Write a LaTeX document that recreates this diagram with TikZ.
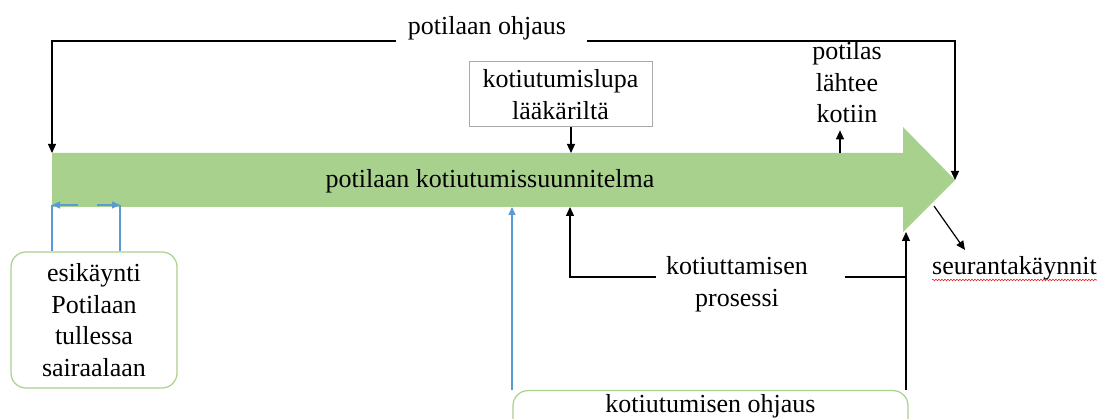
\documentclass[tikz,border=0pt]{standalone}
\usepackage{fontspec}
\setmainfont{Liberation Serif}
\newfontfamily\diagfont{Liberation Serif}
\usetikzlibrary{arrows.meta,decorations.pathmorphing}
\definecolor{planfill}{RGB}{169,209,142}
\definecolor{boxgreen}{RGB}{169,209,142}
\definecolor{boxgray}{RGB}{170,170,170}
\definecolor{linkblue}{RGB}{91,155,213}
\definecolor{spellred}{RGB}{225,40,40}
\begin{document}
\begin{tikzpicture}[x=1pt,y=-1pt,
  txt/.style={font=\diagfont\fontsize{26}{31.5}\selectfont, align=center, inner sep=0pt},
  ln/.style={line width=1.2pt, black},
  tip/.style={-{Triangle[length=9pt,width=8pt]}},
  bl/.style={line width=1.1pt, linkblue},
  bltip/.style={-{Triangle[length=8pt,width=7pt]}},
  gbox/.style={draw=boxgreen, line width=1.2pt, rounded corners=15pt, fill=white}
]
\useasboundingbox (0,0) rectangle (1101,419);
\clip (0,0) rectangle (1101,419);

% the plan arrow
\coordinate (tailT) at (52,153);
\coordinate (tailB) at (52,207);
\coordinate (neckT) at (903,153);
\coordinate (neckB) at (903,207);
\coordinate (headT) at (903,127);
\coordinate (headB) at (903,232);
\coordinate (apex)  at (955,180);
\fill[planfill] (tailT) -- (neckT) -- (headT) -- (apex) -- (headB) -- (neckB) -- (tailB) -- cycle;
\node[txt, anchor=base] (plan) at (490,188) {potilaan kotiutumissuunnitelma};

% guidance loop over the top
\node[txt, anchor=base] (ohj) at (487,35) {potilaan ohjaus};
\coordinate (loopL) at (52,41);
\coordinate (loopR) at (955,41);
\draw[ln,tip] ([xshift=-12pt]ohj.west |- loopL) -- (loopL) -- (tailT);
\draw[ln,tip] ([xshift=21pt]ohj.east |- loopR) -- (loopR) -- (apex);

% permission from the doctor
\node[txt, draw=boxgray, line width=1pt, minimum width=183pt, minimum height=65pt] (lupa) at (560.5,94.5) {kotiutumislupa\\lääkäriltä};
\coordinate (lupaX) at (571,0);
\draw[ln,tip] (lupa.south -| lupaX) -- (lupaX |- tailT);

% patient leaves home
\node[txt] (koti) at (847,82.5) {potilas\\lähtee\\kotiin};
\coordinate (kotiX) at (840,0);
\draw[ln,tip] (kotiX |- tailT) -- ([yshift=-7pt]koti.south -| kotiX);

% follow-up visits
\node[txt, anchor=base] (seur) at (1014.5,275) {seurantakäynnit};
\coordinate (seurFrom) at (934,206);
\coordinate (seurTo) at (965,250);
\draw[ln,tip] (seurFrom) -- (seurTo);
\draw[spellred, line width=0.6pt, decorate, decoration={snake, amplitude=0.8pt, segment length=3pt}]
  ([yshift=-5pt]seur.base west) -- ([yshift=-5pt]seur.base east);

% discharge process
\node[txt] (pros) at (737,284) {kotiuttamisen\\prosessi};
\coordinate (prosL) at (570,277);
\coordinate (prosR) at (906,277);
\draw[ln,tip] ([xshift=-10pt]pros.west |- prosL) -- (prosL) -- (prosL |- tailB);
\draw[ln] ([xshift=37pt]pros.east |- prosR) -- (prosR);

% discharge guidance
\node[gbox, minimum width=395pt, minimum height=50pt, anchor=north] (ohjbox) at (710.5,390) {};
\node[txt, anchor=base] (ohjlbl) at (710.5,413) {kotiutumisen ohjaus};
\draw[ln,tip] (ohjbox.north -| prosR) -- (prosR |- headB);
\coordinate (blueX) at (512,0);
\draw[bl,bltip] (ohjbox.north -| blueX) -- (blueX |- tailB);

% pre-visit on arrival
\node[gbox, txt, minimum width=166pt, minimum height=136pt] (esi) at (94,320) {esikäynti\\Potilaan\\tullessa\\sairaalaan};
\coordinate (spanL) at (52,205);
\coordinate (spanR) at (120,205);
\draw[bl] (esi.north -| spanL) -- (spanL);
\draw[bl] (esi.north -| spanR) -- (spanR);
\draw[bl,bltip] ([xshift=26pt]spanL) -- (spanL);
\draw[bl,bltip] ([xshift=-23pt]spanR) -- (spanR);
\end{tikzpicture}
\end{document}
